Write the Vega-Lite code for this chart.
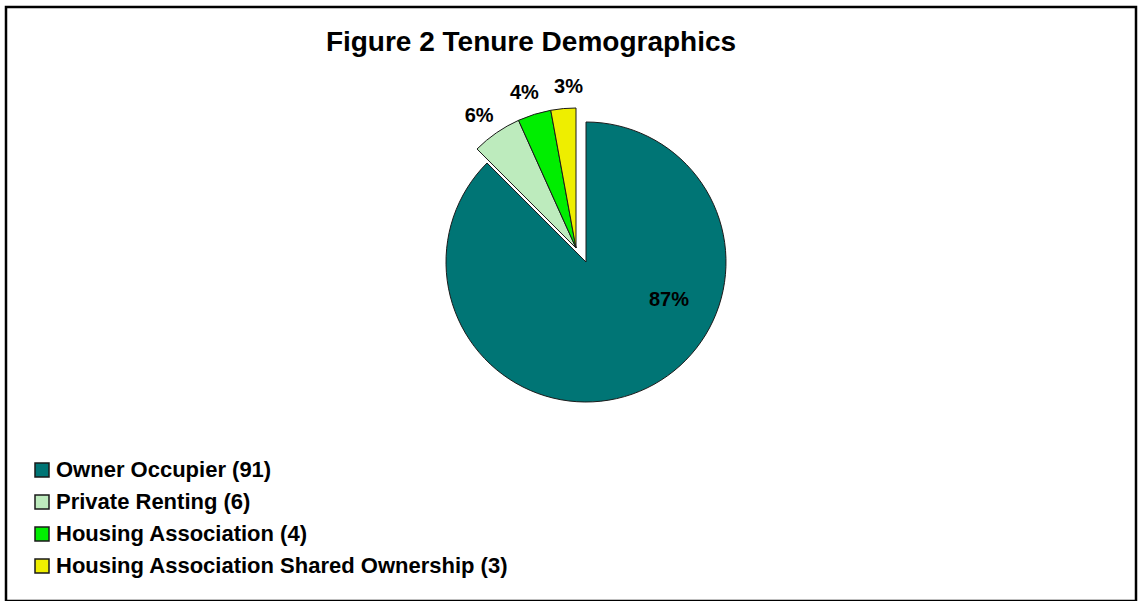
{
  "$schema": "https://vega.github.io/schema/vega-lite/v6.json",
  "autosize": {"type": "fit", "contains": "padding"},
  "width": 1138,
  "height": 601,
  "padding": {"top": 7, "left": 6, "right": 2, "bottom": 0},
  "background": "white",
  "view": {"stroke": "black", "strokeWidth": 2.5, "fill": "white"},
  "title": {
    "text": "Figure 2 Tenure Demographics",
    "font": "Liberation Sans",
    "fontSize": 28,
    "fontWeight": "bold",
    "color": "black",
    "anchor": "middle",
    "dx": -40,
    "offset": -50
  },
  "config": {
    "font": "Liberation Sans"
  },
  "data": {
    "values": [
      {"idx": 1, "tenure": "Owner Occupier (91)", "count": 91, "pct": "87%"},
      {"idx": 2, "tenure": "Private Renting (6)", "count": 6, "pct": "6%"},
      {"idx": 3, "tenure": "Housing Association (4)", "count": 4, "pct": "4%"},
      {"idx": 4, "tenure": "Housing Association Shared Ownership (3)", "count": 3, "pct": "3%"}
    ]
  },
  "layer": [
    {
      "mark": {"type": "arc", "outerRadius": 140, "stroke": "#1a1a1a", "strokeWidth": 1, "xOffset": 15, "yOffset": -42},
      "encoding": {
        "theta": {"field": "count", "type": "quantitative", "stack": true},
        "order": {"field": "idx", "type": "quantitative"},
        "color": {
          "field": "tenure",
          "type": "nominal",
          "scale": {
            "domain": ["Owner Occupier (91)", "Private Renting (6)", "Housing Association (4)", "Housing Association Shared Ownership (3)"],
            "range": ["#007575", "#BDEBBD", "#00EE00", "#EEEE00"]
          },
          "legend": {
            "title": null,
            "orient": "none",
            "legendX": 25,
            "legendY": 452,
            "symbolType": "square",
            "symbolSize": 196,
            "symbolStrokeColor": "black",
            "symbolStrokeWidth": 1.5,
            "symbolOpacity": 1,
            "labelFont": "Liberation Sans",
            "labelFontSize": 22,
            "labelFontWeight": "bold",
            "labelColor": "black",
            "labelLimit": 700,
            "labelOffset": 3,
            "rowPadding": 10
          }
        },
        "opacity": {"condition": {"test": "datum.idx == 1", "value": 1}, "value": 0}
      }
    },
    {
      "mark": {"type": "arc", "outerRadius": 140, "stroke": "#1a1a1a", "strokeWidth": 1, "xOffset": 5, "yOffset": -56},
      "encoding": {
        "theta": {"field": "count", "type": "quantitative", "stack": true},
        "order": {"field": "idx", "type": "quantitative"},
        "color": {"field": "tenure", "type": "nominal"},
        "opacity": {"condition": {"test": "datum.idx == 1", "value": 0}, "value": 1}
      }
    },
    {
      "transform": [{"filter": "datum.idx == 1"}],
      "mark": {"type": "text", "radius": 0, "font": "Liberation Sans", "fontSize": 20, "fontWeight": "bold", "color": "black", "xOffset": 98, "yOffset": -4},
      "encoding": {
        "text": {"field": "pct"}
      }
    },
    {
      "mark": {"type": "text", "radius": 160, "font": "Liberation Sans", "fontSize": 20, "fontWeight": "bold", "color": "black", "xOffset": -1, "yOffset": -56},
      "encoding": {
        "theta": {"field": "count", "type": "quantitative", "stack": true},
        "order": {"field": "idx", "type": "quantitative"},
        "text": {"field": "pct"},
        "opacity": {"condition": {"test": "datum.idx == 2", "value": 1}, "value": 0}
      }
    },
    {
      "mark": {"type": "text", "radius": 160, "font": "Liberation Sans", "fontSize": 20, "fontWeight": "bold", "color": "black", "xOffset": 1, "yOffset": -58},
      "encoding": {
        "theta": {"field": "count", "type": "quantitative", "stack": true},
        "order": {"field": "idx", "type": "quantitative"},
        "text": {"field": "pct"},
        "opacity": {"condition": {"test": "datum.idx == 3", "value": 1}, "value": 0}
      }
    },
    {
      "mark": {"type": "text", "radius": 160, "font": "Liberation Sans", "fontSize": 20, "fontWeight": "bold", "color": "black", "xOffset": 12, "yOffset": -58},
      "encoding": {
        "theta": {"field": "count", "type": "quantitative", "stack": true},
        "order": {"field": "idx", "type": "quantitative"},
        "text": {"field": "pct"},
        "opacity": {"condition": {"test": "datum.idx == 4", "value": 1}, "value": 0}
      }
    }
  ]
}
